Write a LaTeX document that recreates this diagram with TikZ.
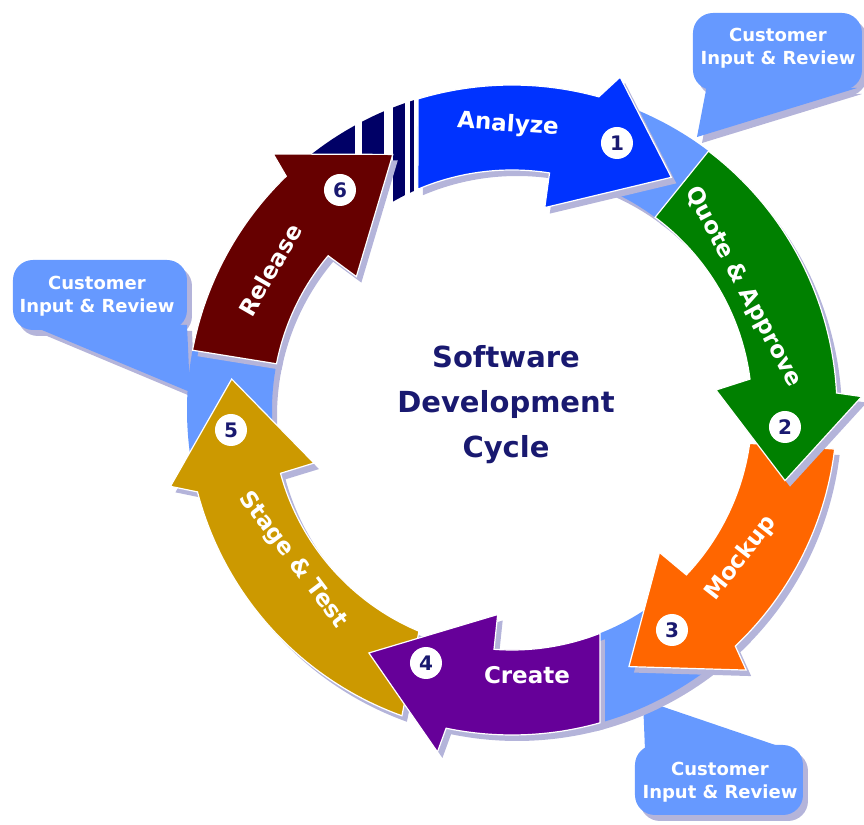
\documentclass[tikz,border=0pt]{standalone}
\usepackage{fontspec}
\setmainfont{DejaVu Sans}
\usepackage{tikz}

\definecolor{anablue}{RGB}{0,51,255}
\definecolor{stripenavy}{RGB}{0,0,102}
\definecolor{quotegreen}{RGB}{0,128,0}
\definecolor{mockorange}{RGB}{255,102,0}
\definecolor{createpurple}{RGB}{102,0,153}
\definecolor{stagegold}{RGB}{204,153,0}
\definecolor{releasemaroon}{RGB}{102,0,0}
\definecolor{reviewblue}{RGB}{102,153,255}
\definecolor{titleblue}{RGB}{25,25,112}
\definecolor{shade}{RGB}{180,180,218}

% ring radii (1 unit = 1 px of the drawing)
\def\rout{325}
\def\rin{240}
\def\rbarbo{350}
\def\rbarbi{205}
\def\rtip{282}

% #1 colour, #2 tail out, #3 base out, #4 barb out, #5 tip, #6 barb in, #7 base in, #8 tail in
\newcommand{\cyclearrow}[8]{%
  \fill[dropshade] (#2:\rout) arc[start angle=#2, end angle=#3, radius=\rout] -- (#4:\rbarbo) -- (#5:\rtip) -- (#6:\rbarbi) -- (#7:\rin) arc[start angle=#7, end angle=#8, radius=\rin] -- cycle;
  \filldraw[fill=#1, draw=white, line width=0.6pt] (#2:\rout) arc[start angle=#2, end angle=#3, radius=\rout] -- (#4:\rbarbo) -- (#5:\rtip) -- (#6:\rbarbi) -- (#7:\rin) arc[start angle=#7, end angle=#8, radius=\rin] -- cycle;
}
% joint piece of the ring between two arrows
\newcommand{\ringjoint}[2]{%
  \fill[dropshade] (#1:\rout) arc[start angle=#1, end angle=#2, radius=\rout] -- (#2:\rin) arc[start angle=#2, end angle=#1, radius=\rin] -- cycle;
  \fill[reviewblue] (#1:\rout) arc[start angle=#1, end angle=#2, radius=\rout] -- (#2:\rin) arc[start angle=#2, end angle=#1, radius=\rin] -- cycle;
}

\begin{document}
\begin{tikzpicture}[x=0.5pt, y=0.5pt]

\tikzstyle{dropshade} = [fill=shade, shift={(5,-6)}]
\tikzstyle{steptext} = [text=white, inner sep=1pt, font=\bfseries\fontsize{11.5}{13}\selectfont]
\tikzstyle{badge} = [circle, fill=white, inner sep=0pt, minimum size=16pt, text=titleblue, font=\bfseries\fontsize{10}{12}\selectfont]
\tikzstyle{notetext} = [text=white, align=center, font=\bfseries\fontsize{9}{11.5}\selectfont]
\tikzstyle{notebox} = [rounded corners=10]

\useasboundingbox (-512,-415) rectangle (352,410);

% Callouts
\fill[dropshade, notebox] (181,320) rectangle (350,397);
\fill[dropshade] (195,325) -- (185,273) -- (345,322) -- cycle;
\fill[dropshade, notebox] (-499,80) rectangle (-325,150);
\fill[dropshade] (-482,85) -- (-325,85) -- (-322,18) -- cycle;
\fill[dropshade, notebox] (123,-405) rectangle (291,-335);
\fill[dropshade] (133,-340) -- (131,-290) -- (278,-340) -- cycle;

\fill[reviewblue, notebox] (181,320) rectangle (350,397);
\fill[reviewblue] (195,325) -- (185,273) -- (345,322) -- cycle;
\fill[reviewblue, notebox] (-499,80) rectangle (-325,150);
\fill[reviewblue] (-482,85) -- (-325,85) -- (-322,18) -- cycle;
\fill[reviewblue, notebox] (123,-405) rectangle (291,-335);
\fill[reviewblue] (133,-340) -- (131,-290) -- (278,-340) -- cycle;

% Ring joints
\ringjoint{52}{82}
\ringjoint{-76}{-44}
\ringjoint{-193}{-165}

% Stripes before Analyze
\begin{scope}
\clip (100:\rout) arc[start angle=100, end angle=130, radius=\rout] -- (130:\rin) arc[start angle=130, end angle=100, radius=\rin] -- cycle;
\foreach \xa/\xb in {-200/-157, -150/-128, -119/-107, -102/-98}
  \fill[stripenavy] (\xa,0) rectangle (\xb,400);
\end{scope}

% Arrows
\cyclearrow{releasemaroon}{-190.6}{-226}{-227}{-245}{-220.6}{-220}{-191.1}
\cyclearrow{anablue}{106.8}{74.5}{72}{55.6}{80.8}{81}{113.1}
\cyclearrow{mockorange}{-6.9}{-46.6}{-48}{-65.5}{-44}{-43.4}{-8}
\cyclearrow{quotegreen}{52.8}{3}{2.2}{-14.5}{5.6}{7.4}{53.4}
\cyclearrow{stagegold}{-109.8}{-165.4}{-167.4}{-186.3}{-165}{-164.7}{-112.8}
\cyclearrow{createpurple}{-74.3}{-101.7}{-102.3}{-120.5}{-94}{-94.3}{-68.5}

% Nodes
\node (title) [text=titleblue, align=center, font=\bfseries\fontsize{14.5}{22.5}\selectfont] at (-6,5) {Software\\Development\\Cycle};

\node (analyze) [steptext, rotate=-4] at (-4,285) {Analyze};
\node (quote) [steptext, rotate=-62] at (231,123) {Quote \& Approve};
\node (mockup) [steptext, rotate=52] at (229,-148) {Mockup};
\node (create) [steptext] at (15,-265) {Create};
\node (stage) [steptext, rotate=-53] at (-219,-150) {Stage \& Test};
\node (release) [steptext, rotate=60] at (-242,140) {Release};

\node (one) [badge] at (105,267) {1};
\node (two) [badge] at (273,-17) {2};
\node (three) [badge] at (160,-220) {3};
\node (four) [badge] at (-86,-253) {4};
\node (five) [badge] at (-281,-20) {5};
\node (six) [badge] at (-172,220) {6};

\node (note1) [notetext] at (266,362) {Customer\\Input \& Review};
\node (note2) [notetext] at (-415,114) {Customer\\Input \& Review};
\node (note3) [notetext] at (208,-372) {Customer\\Input \& Review};

\end{tikzpicture}
\end{document}
